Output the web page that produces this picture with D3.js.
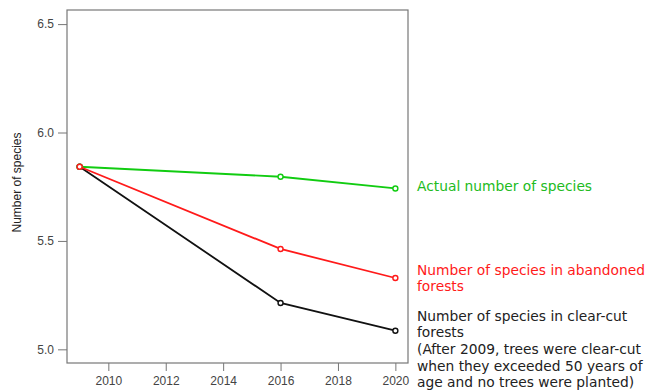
<!DOCTYPE html>
<html>
<head>
<meta charset="utf-8">
<script src="https://cdn.jsdelivr.net/npm/d3@7"></script>
<style>
  body { margin: 0; background: #fff; }
  svg { display: block; }
</style>
</head>
<body>
<svg id="chart"></svg>
<script>
const years = [2009, 2016, 2020];
const actual = [5.842, 5.796, 5.742];
const abandoned = [5.842, 5.463, 5.329];
const clearCut = [5.842, 5.214, 5.086];
const xTicks = [2010, 2012, 2014, 2016, 2018, 2020];
const yTicks = [5.0, 5.5, 6.0, 6.5];

const width = 661, height = 392;
const box = { left: 67, right: 408, top: 10, bottom: 363 };

const svg = d3.select('#chart')
  .attr('width', width)
  .attr('height', height);

const x = d3.scaleLinear()
  .domain([2008.56, 2020.44])
  .range([box.left, box.right]);

const y = d3.scaleLinear()
  .domain([4.937, 6.565])
  .range([box.bottom, box.top]);

// frame
svg.append('rect')
  .attr('x', box.left)
  .attr('y', box.top)
  .attr('width', box.right - box.left)
  .attr('height', box.bottom - box.top)
  .attr('fill', 'none')
  .attr('stroke', '#777')
  .attr('stroke-width', 1.2);

const yAxis = svg.append('g')
  .attr('transform', 'translate(' + box.left + ',0)')
  .call(d3.axisLeft(y).tickValues(yTicks).tickFormat(d3.format('.1f')).tickSize(9).tickPadding(4));

const xAxis = svg.append('g')
  .attr('transform', 'translate(0,' + box.bottom + ')')
  .call(d3.axisBottom(x).tickValues(xTicks).tickFormat(d3.format('d')).tickSize(8).tickPadding(5));

[yAxis, xAxis].forEach(g => {
  g.select('.domain').remove();
  g.selectAll('line').attr('stroke', '#777');
  g.selectAll('text')
    .attr('fill', '#444')
    .attr('font-family', 'Liberation Sans, Arial, sans-serif')
    .attr('font-size', 12);
});

svg.append('text')
  .attr('transform', 'translate(21,' + ((box.top + box.bottom) / 2 - 4) + ') rotate(-90)')
  .attr('text-anchor', 'middle')
  .attr('font-family', 'Liberation Sans, Arial, sans-serif')
  .attr('font-size', 12)
  .attr('fill', '#222')
  .text('Number of species');

const series = [
  { values: clearCut, color: '#111' },
  { values: actual, color: '#11cc11' },
  { values: abandoned, color: '#ff1a1a' }
];

const line = d3.line()
  .x(d => x(d.year))
  .y(d => y(d.value));

series.forEach(s => {
  const pts = years.map((yr, i) => ({ year: yr, value: s.values[i] }));
  svg.append('path')
    .datum(pts)
    .attr('d', line)
    .attr('fill', 'none')
    .attr('stroke', s.color)
    .attr('stroke-width', 1.8);
  svg.selectAll(null)
    .data(pts)
    .enter()
    .append('circle')
    .attr('cx', d => x(d.year))
    .attr('cy', d => y(d.value))
    .attr('r', 2.5)
    .attr('fill', '#fff')
    .attr('stroke', s.color)
    .attr('stroke-width', 1.4);
});

// annotations
const notes = [
  { lines: ['Actual number of species'], color: '#22bb22', y0: 186 },
  { lines: ['Number of species in abandoned', 'forests'], color: '#ff1a1a', y0: 270 },
  { lines: ['Number of species in clear-cut', 'forests', '(After 2009, trees were clear-cut',
            'when they exceeded 50 years of', 'age and no trees were planted)'], color: '#222', y0: 316 }
];

notes.forEach(n => {
  const t = svg.append('text')
    .attr('font-family', 'DejaVu Sans, sans-serif')
    .attr('font-size', 13.8)
    .attr('fill', n.color);
  n.lines.forEach((l, i) => {
    t.append('tspan')
      .attr('x', 417)
      .attr('y', n.y0 + i * 16.6)
      .attr('dy', '0.35em')
      .text(l);
  });
});
</script>
</body>
</html>
